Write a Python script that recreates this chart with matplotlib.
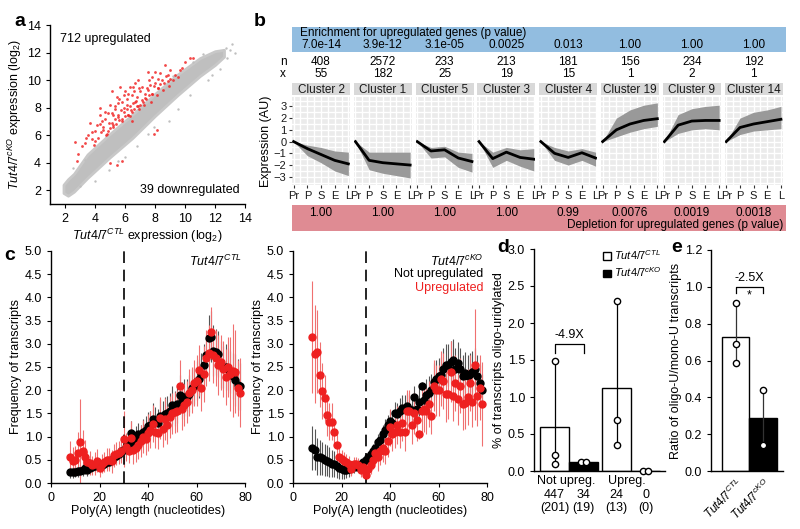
import numpy as np
import matplotlib
matplotlib.use('Agg')
import matplotlib.pyplot as plt
from matplotlib.patches import Patch

plt.rcParams['font.family'] = 'Liberation Sans'
plt.rcParams['mathtext.fontset'] = 'custom'
plt.rcParams['mathtext.rm'] = 'Liberation Sans'
plt.rcParams['mathtext.it'] = 'Liberation Sans:italic'
plt.rcParams['font.size'] = 9
plt.rcParams['axes.linewidth'] = 1.0
plt.rcParams['xtick.major.size'] = 3
plt.rcParams['ytick.major.size'] = 3

# ---------------- data ----------------
# a: expression scatter (dense gray cloud as band edges + fringe points)
band_x = [1.9, 2.2, 2.6, 3.5, 5.0, 6.5, 8.0, 9.5, 11.0, 12.0, 12.6]
band_lo = [1.8, 1.6, 1.9, 2.9, 4.4, 5.8, 7.4, 8.9, 10.3, 11.1, 11.7]
band_hi = [2.4, 2.8, 3.2, 4.6, 6.1, 7.5, 9.0, 10.4, 11.6, 12.1, 12.2]
gray_x = [8.9, 9.5, 10.3, 7.5, 6.8, 6.0, 4.9, 3.0, 11.5, 12.3, 13.0, 13.3, 12.8,
          3.3, 2.5, 10.5, 11.2, 9.2, 12.7, 13.1, 5.5, 4.0, 7.9, 11.8]
gray_y = [7.0, 7.9, 8.9, 6.1, 5.2, 4.4, 3.5, 2.3, 10.0, 10.8, 12.2, 12.0, 11.6,
          4.2, 3.6, 11.3, 11.9, 10.3, 12.3, 12.6, 4.1, 2.7, 6.6, 10.4]
red_x = [10.3, 10.56, 8.67, 8.84, 7.78, 8.0, 8.44, 7.44, 6.89, 6.67, 7.0, 6.44,
         6.0, 5.78, 6.11, 5.44, 5.33, 5.0, 4.89, 5.56, 4.67, 4.33, 4.11, 3.67,
         3.56, 4.0, 4.56, 4.89, 5.22, 5.78, 6.44, 6.89, 7.33, 7.78, 8.22, 8.89,
         9.33, 9.67, 9.0, 7.56, 6.33, 5.67, 5.11, 2.89, 2.78, 2.67, 3.11, 3.33,
         3.78, 6.67, 7.11, 7.67, 8.22, 8.0, 6.22, 5.22, 4.44, 4.67, 4.33, 6.44,
         4.8, 5.0, 5.2, 5.4, 5.6, 5.8, 6.0, 6.2, 6.4, 6.6, 6.8, 7.0, 7.2, 7.4,
         7.6, 7.8, 8.2, 8.6, 9.0, 5.1, 5.5, 6.1, 6.7, 7.3, 5.9, 6.3, 4.2, 3.9,
         4.4, 5.78, 5.44, 8.1, 7.9, 5.0,
         4.5, 4.7, 4.9, 5.1, 5.3, 5.5, 5.7, 5.9, 6.1, 6.3, 6.5, 6.6, 6.8, 6.95,
         7.1, 7.25, 7.5, 7.7, 7.9, 8.1, 8.3, 8.5, 8.7, 8.9, 9.2, 9.5, 9.8, 10.0,
         5.6, 6.2, 4.3, 3.8, 3.4, 4.0, 5.3, 6.9, 7.6, 8.3, 6.5, 5.9]
red_y = [11.6, 11.63, 11.1, 10.4, 10.2, 9.8, 10.0, 9.4, 10.0, 9.8, 9.2, 8.9,
         9.2, 8.4, 8.2, 8.8, 8.1, 8.2, 7.6, 7.5, 7.2, 7.5, 6.75, 6.9,
         6.0, 6.3, 6.6, 6.3, 6.75, 7.0, 7.7, 8.1, 8.7, 9.0, 9.4, 9.9,
         10.4, 10.7, 10.7, 10.6, 9.5, 9.5, 9.2, 4.6, 4.1, 5.5, 5.2, 5.4,
         5.7, 8.4, 8.55, 9.65, 10.1, 10.6, 7.5, 7.5, 7.0, 7.7, 8.0, 7.0,
         6.1, 6.5, 6.6, 6.8, 7.1, 7.2, 7.4, 7.5, 7.8, 7.9, 8.1, 8.2, 8.4, 8.6,
         8.9, 9.0, 9.4, 9.8, 10.1, 6.9, 7.3, 7.9, 8.5, 9.0, 7.7, 8.1, 5.8, 5.3,
         6.2, 4.1, 3.85, 6.4, 6.1, 4.0,
         6.4, 6.0, 6.9, 7.6, 7.2, 8.3, 7.8, 8.0, 8.6, 7.4, 8.3, 9.2, 8.8, 7.9,
         9.5, 8.2, 9.3, 8.4, 9.6, 8.9, 9.7, 9.3, 10.3, 9.6, 10.0, 10.2, 10.9, 11.3,
         8.6, 9.0, 6.8, 6.2, 5.8, 5.6, 7.9, 9.4, 10.0, 10.5, 9.5, 8.9]

# b: clusters
stages = ['Pr', 'P', 'S', 'E', 'L']
cluster_names = ['Cluster 2', 'Cluster 1', 'Cluster 5', 'Cluster 3',
                 'Cluster 4', 'Cluster 19', 'Cluster 9', 'Cluster 14']
enrich_p = ['7.0e-14', '3.9e-12', '3.1e-05', '0.0025', '0.013', '1.00', '1.00', '1.00']
deplete_p = ['1.00', '1.00', '1.00', '1.00', '0.99', '0.0076', '0.0019', '0.0018']
n_genes = ['408', '2572', '233', '213', '181', '156', '234', '192']
x_up = ['55', '182', '25', '19', '15', '1', '2', '1']
clu_med = [[0, -0.6, -1.1, -1.6, -1.9],
           [0, -1.6, -1.8, -1.9, -2.0],
           [0, -0.8, -0.7, -1.4, -1.7],
           [0, -1.45, -0.9, -1.35, -1.5],
           [0, -1.0, -1.35, -0.95, -1.4],
           [0, 1.0, 1.5, 1.8, 1.95],
           [0, 1.4, 1.75, 1.8, 1.8],
           [0, 1.2, 1.5, 1.7, 1.9]]
clu_lo = [[0, -1.2, -1.8, -2.5, -2.9],
          [0, -2.4, -2.7, -2.9, -3.1],
          [0, -1.4, -1.3, -2.2, -2.6],
          [0, -2.2, -1.6, -2.1, -2.5],
          [0, -1.6, -2.0, -1.6, -2.1],
          [0, 0.4, 0.8, 1.1, 1.3],
          [0, 0.7, 1.0, 1.1, 1.0],
          [0, 0.6, 0.9, 1.0, 1.1]]
clu_hi = [[0, -0.3, -0.5, -0.8, -0.9],
          [0, -0.9, -0.9, -0.9, -0.9],
          [0, -0.5, -0.4, -0.9, -1.0],
          [0, -0.9, -0.5, -0.7, -0.6],
          [0, -0.5, -0.8, -0.6, -0.9],
          [0, 2.0, 2.7, 3.1, 3.3],
          [0, 2.3, 2.8, 3.0, 3.1],
          [0, 2.0, 2.5, 2.7, 3.0]]

# c: poly(A) length distributions
polya_len = list(range(8, 79))
ctl_notup = [0.23, 0.23, 0.24, 0.25, 0.26, 0.28, 0.33, 0.28, 0.32, 0.35,
             0.36, 0.40, 0.38, 0.38, 0.40, 0.45, 0.45, 0.50, 0.55, 0.58,
             0.62, 0.68, 0.72, 0.78, 0.85, 1.08, 0.90, 1.00, 1.05, 1.00,
             1.10, 1.15, 1.22, 1.25, 1.38, 1.32, 1.30, 1.45, 1.42, 1.48,
             1.50, 1.55, 1.68, 1.60, 1.70, 1.90, 1.78, 1.85, 1.85, 1.92,
             2.05, 2.10, 2.20, 2.25, 2.35, 2.55, 2.75, 3.12, 3.15, 2.85,
             2.82, 2.78, 2.55, 2.50, 2.50, 2.45, 2.40, 2.30, 2.22, 2.12,
             2.08]
ctl_notup_err = [0.12, 0.12, 0.12, 0.12, 0.12, 0.13, 0.13, 0.12, 0.12, 0.12,
                 0.12, 0.12, 0.12, 0.12, 0.12, 0.13, 0.13, 0.13, 0.14, 0.14,
                 0.15, 0.15, 0.16, 0.18, 0.20, 0.25, 0.22, 0.22, 0.25, 0.25,
                 0.28, 0.30, 0.32, 0.30, 0.35, 0.32, 0.30, 0.35, 0.35, 0.38,
                 0.38, 0.40, 0.40, 0.38, 0.40, 0.42, 0.40, 0.40, 0.40, 0.40,
                 0.40, 0.40, 0.42, 0.42, 0.45, 0.45, 0.45, 0.50, 0.55, 0.55,
                 0.50, 0.50, 0.50, 0.45, 0.50, 0.45, 0.45, 0.50, 0.55, 0.55,
                 0.50]
ctl_up = [0.55, 0.47, 0.50, 0.64, 0.88, 0.70, 0.57, 0.45, 0.43, 0.38,
          0.42, 0.48, 0.32, 0.42, 0.45, 0.50, 0.50, 0.47, 0.60, 0.63,
          0.65, 0.68, 0.95, 0.78, 0.68, 0.98, 0.72, 0.75, 0.82, 0.90,
          1.00, 0.95, 1.08, 1.15, 1.28, 1.10, 1.08, 1.40, 1.17, 1.38,
          1.25, 1.42, 1.50, 1.52, 1.55, 2.10, 1.60, 1.68, 1.75, 1.95,
          2.00, 2.15, 2.20, 2.43, 2.05, 2.35, 2.70, 2.80, 3.25, 2.75,
          2.70, 2.55, 2.60, 2.45, 2.28, 2.50, 2.35, 2.42, 2.40, 2.05,
          1.95]
ctl_up_err = [0.35, 0.30, 0.30, 0.45, 0.92, 0.45, 0.35, 0.25, 0.25, 0.20,
              0.25, 0.25, 0.18, 0.20, 0.22, 0.25, 0.25, 0.25, 0.25, 0.25,
              0.25, 0.25, 0.60, 0.30, 0.25, 0.35, 0.30, 0.30, 0.30, 0.35,
              0.35, 0.35, 0.40, 0.40, 0.40, 0.35, 0.35, 0.45, 0.40, 0.45,
              0.40, 0.45, 0.45, 0.45, 0.45, 0.55, 0.45, 0.45, 0.45, 0.50,
              0.50, 0.50, 0.55, 0.55, 0.50, 0.60, 0.60, 0.60, 0.55, 0.60,
              0.60, 0.65, 0.60, 0.60, 0.60, 0.65, 0.80, 1.00, 0.90, 0.60,
              0.75]
cko_notup = [0.75, 0.72, 0.57, 0.55, 0.53, 0.50, 0.48, 0.45, 0.42, 0.40,
             0.37, 0.33, 0.30, 0.28, 0.28, 0.30, 0.33, 0.35, 0.37, 0.35,
             0.42, 0.45, 0.50, 0.55, 0.62, 0.70, 0.75, 0.88, 0.92, 1.05,
             1.15, 1.25, 1.33, 1.30, 1.50, 1.48, 1.55, 1.62, 1.60, 1.65,
             1.60, 1.58, 1.85, 1.60, 1.75, 2.08, 1.78, 1.90, 1.95, 2.00,
             2.18, 2.25, 2.30, 2.32, 2.45, 2.55, 2.55, 2.60, 2.65, 2.45,
             2.58, 2.45, 2.30, 2.38, 2.30, 2.35, 2.40, 2.45, 2.30, 2.15,
             2.00]
cko_notup_err = [0.48, 0.45, 0.40, 0.38, 0.36, 0.35, 0.33, 0.32, 0.30, 0.28,
                 0.26, 0.24, 0.22, 0.20, 0.18, 0.16, 0.15, 0.14, 0.12, 0.10,
                 0.10, 0.10, 0.10, 0.12, 0.14, 0.15, 0.18, 0.18, 0.20, 0.20,
                 0.22, 0.22, 0.25, 0.25, 0.25, 0.25, 0.28, 0.28, 0.30, 0.30,
                 0.30, 0.30, 0.25, 0.30, 0.30, 0.10, 0.30, 0.35, 0.35, 0.35,
                 0.40, 0.40, 0.40, 0.40, 0.45, 0.45, 0.45, 0.45, 0.45, 0.45,
                 0.45, 0.45, 0.45, 0.45, 0.45, 0.45, 0.45, 0.45, 0.45, 0.40,
                 0.35]
cko_up = [3.15, 2.78, 2.83, 2.33, 1.98, 1.83, 1.47, 1.32, 1.32, 1.10,
          0.82, 0.55, 0.52, 0.48, 0.45, 0.42, 0.30, 0.40, 0.42, 0.38,
          0.28, 0.35, 0.18, 0.30, 0.38, 0.50, 0.65, 0.55, 0.68, 0.75,
          0.70, 0.90, 1.20, 1.05, 1.10, 1.25, 1.10, 1.30, 1.10, 1.55,
          1.55, 1.25, 1.50, 1.35, 1.05, 1.55, 1.60, 1.55, 1.70, 1.45,
          2.10, 2.00, 2.00, 2.25, 2.20, 1.92, 1.92, 2.40, 1.88, 2.15,
          1.80, 2.10, 1.70, 1.72, 1.85, 2.15, 1.75, 2.55, 1.88, 2.05,
          1.70]
cko_up_err = [1.20, 1.05, 0.90, 0.70, 0.60, 0.50, 0.45, 0.40, 0.40, 0.30,
              0.25, 0.20, 0.20, 0.18, 0.18, 0.16, 0.15, 0.15, 0.15, 0.15,
              0.15, 0.15, 0.12, 0.15, 0.18, 0.20, 0.25, 0.30, 0.30, 0.30,
              0.30, 0.35, 0.40, 0.35, 0.35, 0.40, 0.35, 0.40, 0.40, 0.45,
              0.45, 0.40, 0.45, 0.45, 0.10, 0.45, 0.50, 0.50, 0.50, 0.40,
              0.55, 0.55, 0.55, 0.60, 0.60, 0.60, 0.55, 0.65, 0.55, 0.60,
              0.55, 0.60, 0.55, 0.55, 0.60, 0.60, 0.55, 1.20, 0.65, 0.70,
              0.90]

# d: % oligo-uridylated
d_groups = ['Not upreg.', 'Upreg.']
d_means = [0.60, 0.12, 1.12, 0.0]          # CTL, cKO, CTL, cKO
d_points = [[1.49, 0.21, 0.10], [0.12, 0.12], [2.30, 0.69, 0.35], [0.0, 0.0]]
d_counts = ['447', '34', '24', '0']
d_counts2 = ['(201)', '(19)', '(13)', '(0)']

# e: oligo-U / mono-U ratio
e_means = [0.73, 0.29]
e_points = [[0.91, 0.69, 0.585], [0.44, 0.14]]

CTL = r'$\mathit{Tut4/7}^{\mathit{CTL}}$'
CKO = r'$\mathit{Tut4/7}^{\mathit{cKO}}$'

W, H = 800, 529
fig = plt.figure(figsize=(8, 5.29), dpi=100)


def box(l, t, r, b):
    return [l / W, 1 - b / H, (r - l) / W, (b - t) / H]


def ftext(x, y, s, **kw):
    fig.text(x / W, 1 - y / H, s, **kw)


def clean(ax):
    ax.spines['top'].set_visible(False)
    ax.spines['right'].set_visible(False)


# ---------------- a ----------------
ax = fig.add_axes(box(50, 25, 245, 204))
ax.fill_between(band_x, band_lo, band_hi, color='#bfbfbf', lw=2, ec='#c8c8c8')
ax.scatter(gray_x, gray_y, s=3, c='#bfbfbf', lw=0)
ax.scatter(red_x, red_y, s=4, c='#f02828', lw=0, alpha=0.85)
ax.set_xlim(1, 14)
ax.set_ylim(1, 14)
ax.set_xticks(range(2, 15, 2))
ax.set_yticks(range(2, 15, 2))
clean(ax)
ax.set_xlabel(CTL + ' expression (log$_2$)', labelpad=1)
ax.set_ylabel(CKO + ' expression (log$_2$)', labelpad=2)
ax.text(0.05, 0.92, '712 upregulated', transform=ax.transAxes, va='center')
ax.text(0.97, 0.08, '39 downregulated', transform=ax.transAxes, ha='right', va='center')

# ---------------- b ----------------
blue = fig.add_axes(box(292, 27, 786, 52))
blue.set_facecolor('#92bde0')
pink = fig.add_axes(box(292, 205, 786, 231))
pink.set_facecolor('#df8b93')
for a2 in (blue, pink):
    a2.set_xticks([])
    a2.set_yticks([])
    for s in a2.spines.values():
        s.set_visible(False)
ftext(300, 33, 'Enrichment for upregulated genes (p value)', fontsize=8.5, va='center')
ftext(783, 225, 'Depletion for upregulated genes (p value)', fontsize=8.5, va='center', ha='right')
ftext(283, 62, 'n', fontsize=8.5, va='center', ha='center')
ftext(283, 74, 'x', fontsize=8.5, va='center', ha='center')

for i in range(8):
    l = 292 + i * 61.8
    cx = l + 29
    ftext(cx, 45, enrich_p[i], fontsize=8.5, ha='center', va='center')
    ftext(cx, 62, n_genes[i], fontsize=8.5, ha='center', va='center')
    ftext(cx, 74, x_up[i], fontsize=8.5, ha='center', va='center')
    ftext(cx, 213, deplete_p[i], fontsize=8.5, ha='center', va='center')

    st = fig.add_axes(box(l, 83, l + 58, 95))
    st.set_facecolor('#d9d9d9')
    st.set_xticks([])
    st.set_yticks([])
    for s in st.spines.values():
        s.set_visible(False)
    st.text(0.5, 0.45, cluster_names[i], transform=st.transAxes, ha='center',
            va='center', fontsize=8.5, color='#1a1a1a')

    ax = fig.add_axes(box(l, 97, l + 58, 185))
    ax.set_facecolor('#ebebeb')
    ax.fill_between(range(5), clu_lo[i], clu_hi[i], color='#999999', lw=0, zorder=2)
    ax.plot(range(5), clu_med[i], color='black', lw=2, zorder=3)
    ax.set_xlim(-0.12, 4.12)
    ax.set_ylim(-3.7, 3.8)
    ax.set_xticks(range(5))
    ax.set_xticklabels(stages)
    ax.set_xticks(np.arange(0.5, 4, 1), minor=True)
    ax.set_yticks(range(-3, 4))
    ax.set_yticks(np.arange(-3.5, 4, 1), minor=True)
    ax.grid(which='both', color='white', lw=1.0)
    ax.set_axisbelow(True)
    ax.tick_params(which='minor', length=0)
    ax.tick_params(which='major', length=2.5, color='#333333', labelsize=8,
                   pad=1.5, labelcolor='#1a1a1a')
    for s in ax.spines.values():
        s.set_visible(False)
    if i == 0:
        ax.set_ylabel('Expression (AU)', fontsize=9, labelpad=1)
    else:
        ax.tick_params(axis='y', left=False, labelleft=False)

# ---------------- c ----------------
panels_c = [(51, CTL, ctl_notup, ctl_notup_err, ctl_up, ctl_up_err),
            (293, CKO, cko_notup, cko_notup_err, cko_up, cko_up_err)]
for k, (l, ttl, bl, bl_e, rd, rd_e) in enumerate(panels_c):
    ax = fig.add_axes(box(l, 251, l + 194, 483))
    ax.errorbar(polya_len, bl, yerr=bl_e, fmt='o', color='black', ms=5,
                elinewidth=0.8, ecolor='#555555', capsize=0)
    ax.errorbar(polya_len, rd, yerr=rd_e, fmt='o', color='#ee2020', ms=5,
                elinewidth=0.8, ecolor='#f07070', capsize=0)
    ax.axvline(30, color='black', ls=(0, (7, 4)), lw=1.2)
    ax.set_xlim(0, 80)
    ax.set_ylim(0, 5)
    ax.set_xticks(range(0, 81, 20))
    ax.set_yticks(np.arange(0, 5.01, 0.5))
    ax.set_yticklabels(['%.1f' % v for v in np.arange(0, 5.01, 0.5)])
    clean(ax)
    ax.set_xlabel('Poly(A) length (nucleotides)', labelpad=1)
    ax.set_ylabel('Frequency of transcripts', labelpad=2)
    ax.text(0.98, 0.99, ttl, transform=ax.transAxes, ha='right', va='top', fontsize=9)
    if k == 1:
        ax.text(0.98, 0.9, 'Not upregulated', transform=ax.transAxes, ha='right',
                va='center', fontsize=9)
        ax.text(0.98, 0.84, 'Upregulated', transform=ax.transAxes, ha='right',
                va='center', fontsize=9, color='#ee2020')

# ---------------- d ----------------
ax = fig.add_axes(box(534, 249, 665, 471))
d_x = [0, 1, 2.14, 3.14]
d_fc = ['white', 'black', 'white', 'black']
ax.bar(d_x, d_means, width=1, color=d_fc, edgecolor='black', lw=1, zorder=2)
for xi, pts in zip(d_x, d_points):
    if len(pts) == 2:
        ax.plot([xi - 0.1, xi + 0.1], pts, 'o', ms=4.5, mfc='white', mec='black',
                mew=1, zorder=4, clip_on=False)
    else:
        ax.plot([xi, xi], [min(pts), max(pts)], color='black', lw=0.9, zorder=3)
        ax.plot([xi] * len(pts), pts, 'o', ms=4.5, mfc='white', mec='black',
                mew=1, zorder=4)
ax.plot([0, 0, 1, 1], [1.60, 1.72, 1.72, 1.60], color='black', lw=0.9)
ax.text(0.5, 1.76, '-4.9X', ha='center', va='bottom', fontsize=9)
ax.set_xlim(-0.71, 3.81)
ax.set_ylim(0, 3)
ax.set_xticks([])
ax.set_yticks(np.arange(0, 3.01, 0.5))
ax.set_yticklabels(['%.1f' % v for v in np.arange(0, 3.01, 0.5)])
clean(ax)
ax.set_ylabel('% of transcripts oligo-uridylated', labelpad=2)
tr = ax.get_xaxis_transform()
ax.text(0.4, -0.045, d_groups[0], transform=tr, ha='center', va='center', fontsize=9)
ax.text(2.5, -0.045, d_groups[1], transform=tr, ha='center', va='center', fontsize=9)
for xi, c1, c2 in zip(d_x, d_counts, d_counts2):
    ax.text(xi, -0.108, c1, transform=tr, ha='center', va='center', fontsize=9)
    ax.text(xi, -0.167, c2, transform=tr, ha='center', va='center', fontsize=9)
ax.legend(handles=[Patch(fc='white', ec='black', label=CTL),
                   Patch(fc='black', ec='black', label=CKO)],
          loc='upper left', bbox_to_anchor=(603 / W, 1 - 248 / H),
          bbox_transform=fig.transFigure, frameon=False, fontsize=8,
          handlelength=0.7, handleheight=0.7, handletextpad=0.3,
          labelspacing=0.35, borderpad=0, borderaxespad=0)

# ---------------- e ----------------
ax = fig.add_axes(box(711, 250, 783, 471))
ax.bar([0, 1], e_means, width=1, color=['white', 'black'], edgecolor='black', lw=1, zorder=2)
for xi, pts in zip([0, 1], e_points):
    ax.plot([xi, xi], [min(pts), max(pts)], color='#333333', lw=0.9, zorder=3)
    ax.plot([xi] * len(pts), pts, 'o', ms=4.5, mfc='white', mec='black',
            mew=1, zorder=4)
ax.plot([0, 0, 1, 1], [0.965, 1.0, 1.0, 0.965], color='black', lw=0.9)
ax.text(0.5, 1.015, '-2.5X', ha='center', va='bottom', fontsize=9)
ax.text(0.5, 0.985, '*', ha='center', va='top', fontsize=9)
ax.set_xlim(-0.9, 1.72)
ax.set_ylim(0, 1.2)
ax.set_xticks([0, 1])
ax.set_xticklabels([CTL, CKO], rotation=45, ha='right', rotation_mode='anchor', fontsize=8.5)
ax.tick_params(axis='x', length=0)
ax.set_yticks(np.arange(0, 1.21, 0.2))
ax.set_yticklabels(['%.1f' % v for v in np.arange(0, 1.21, 0.2)])
clean(ax)
ax.set_ylabel('Ratio of oligo-U/mono-U transcripts', labelpad=2)

# panel letters
for lab, x, y in [('a', 20, 22), ('b', 260, 21), ('c', 10, 256), ('d', 503, 248), ('e', 677, 248)]:
    ftext(x, y, lab, fontsize=14, fontweight='bold', ha='center', va='center')

fig.savefig('out.png', dpi=100)
